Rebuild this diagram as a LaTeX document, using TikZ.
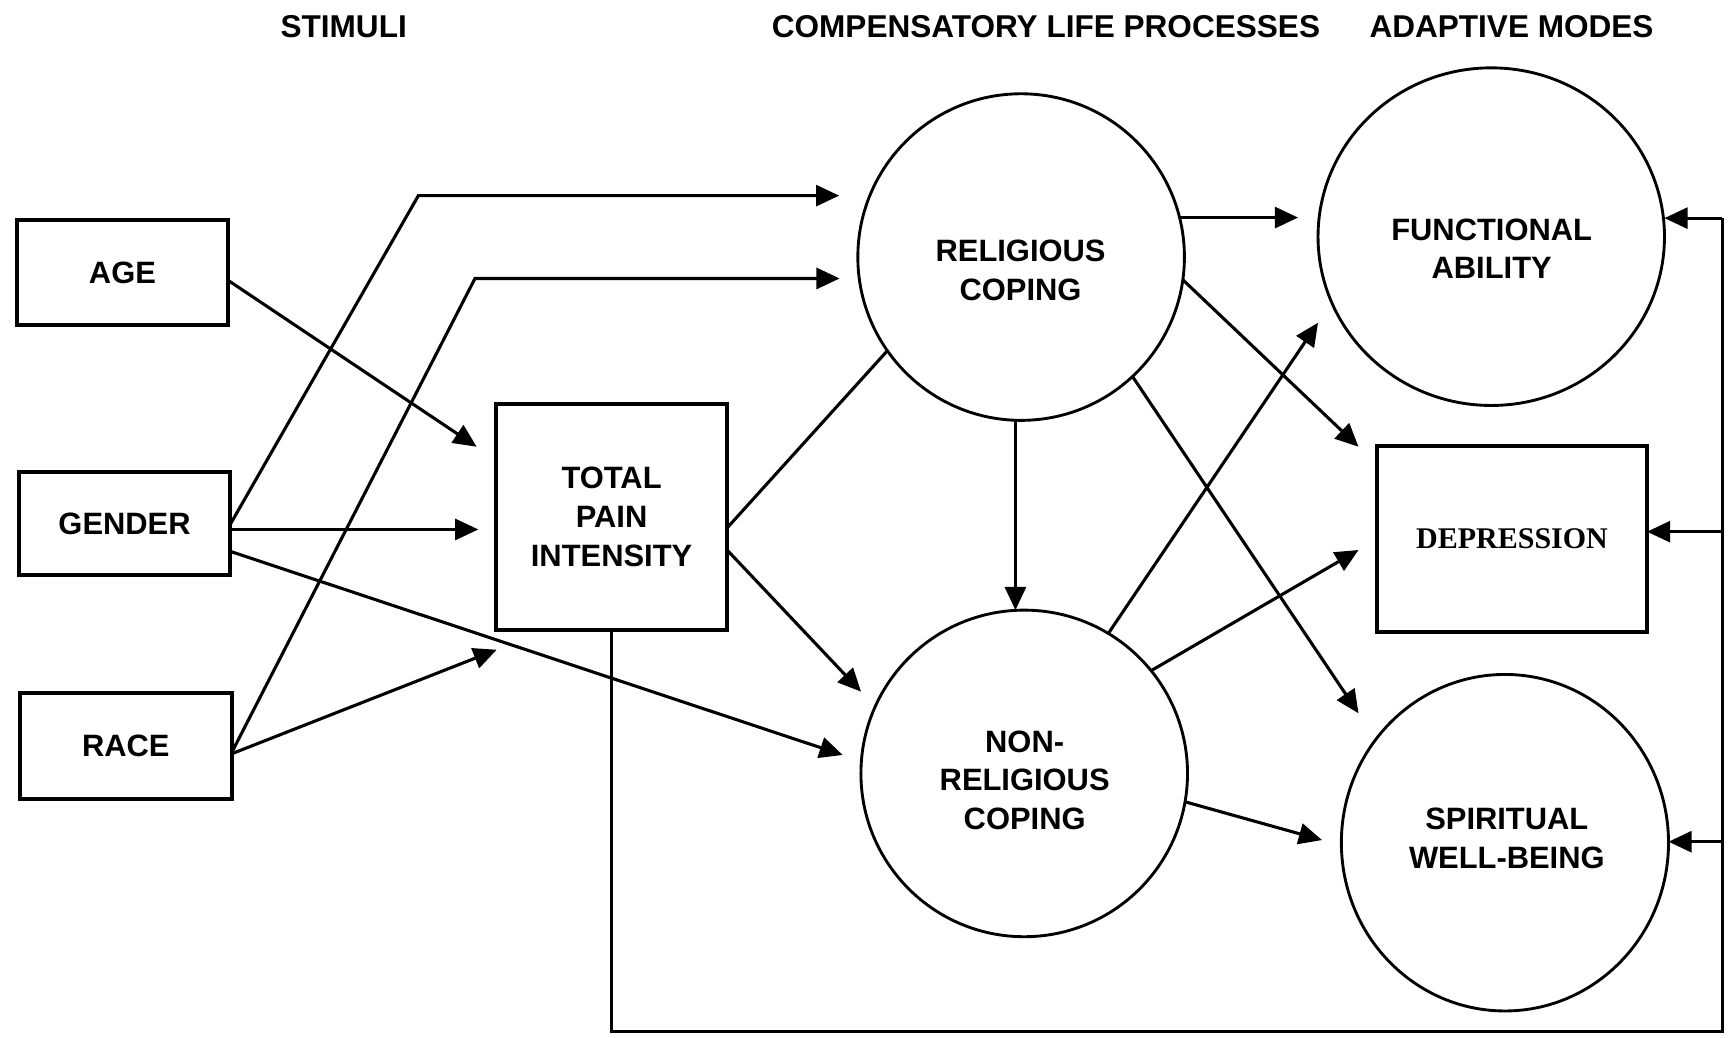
\documentclass[tikz,border=0pt]{standalone}
\usepackage{fontspec}
\setsansfont{Liberation Sans}
\newfontfamily\depfont{Liberation Serif}
\usetikzlibrary{arrows.meta,calc,shapes.geometric}
\begin{document}
\begin{tikzpicture}[x=0.5pt,y=-0.5pt,
  lbl/.style={font=\sffamily\bfseries\fontsize{14}{17.5}\selectfont, align=center, inner sep=0pt},
  ttl/.style={lbl, font=\sffamily\bfseries\fontsize{14.3}{17.5}\selectfont},
  box/.style={lbl, draw, rectangle, line width=1.8pt, outer sep=0pt},
  roundnode/.style={draw, circle, line width=1.3pt, inner sep=0pt, outer sep=0pt},
  ovalnode/.style={draw, ellipse, line width=1.3pt, inner sep=0pt, outer sep=0pt},
  conn/.style={line width=1.4pt},
  arr/.style={conn, -{Triangle[length=10.5pt,width=9.5pt]}}
]
\fill[white] (0,0) rectangle (1568,940);
\useasboundingbox (0,0) rectangle (1568,940);

% titles
\node[ttl] (tstim) at (311.5,24) {STIMULI};
\node[ttl] (tcomp) at (948,24) {COMPENSATORY LIFE PROCESSES};
\node[ttl] (tadap) at (1370,24) {ADAPTIVE MODES};

% stimuli
\node[box, minimum width=95.6pt, minimum height=47.75pt] (age) at (111,247) {AGE};
\node[box, minimum width=95.65pt, minimum height=46.65pt] (gender) at (112.9,474.5) {GENDER};
\node[box, minimum width=95.95pt, minimum height=48.35pt] (race) at (114,676.2) {RACE};
\node[box, minimum width=104.7pt, minimum height=102.5pt] (tpi) at (554.3,468.5) {TOTAL\\PAIN\\INTENSITY};

% compensatory processes
\node[roundnode, minimum size=148pt] (rc) at (925.5,233) {};
\node[lbl] (rctext) at (925,245) {RELIGIOUS\\COPING};
\node[roundnode, minimum size=148pt] (nrc) at (928.3,701) {};
\node[lbl] (nrctext) at (928.7,707) {NON-\\RELIGIOUS\\COPING};

% adaptive modes
\node[ovalnode, minimum width=157pt, minimum height=153pt] (fa) at (1351.6,214.5) {};
\node[lbl] (fatext) at (1352,225.5) {FUNCTIONAL\\ABILITY};
\node[box, font=\depfont\bfseries\fontsize{13.6}{17}\selectfont, minimum width=122.4pt, minimum height=84.1pt] (dep) at (1370.4,488.4) {DEPRESSION};
\node[ovalnode, minimum width=148.25pt, minimum height=152.5pt] (swb) at (1364,763.8) {};
\node[lbl] (swbtext) at (1365.7,759.7) {SPIRITUAL\\WELL-BEING};

% free ends of arrows (tips stop short of their targets)
\coordinate (cg) at (379.2,177.3);
\coordinate (cr) at (430.5,252.4);
\coordinate (tRCa) at (760.6,177.3);
\coordinate (tRCb) at (761,252.4);
\coordinate (tTPIa) at (432,404.9);
\coordinate (tTPIb) at (433.5,479.9);
\coordinate (tTPIc) at (450.2,588.9);
\coordinate (tNRCa) at (780.4,626.9);
\coordinate (tNRCb) at (763.8,684.3);
\coordinate (tFAa) at (1176.5,197.5);
\coordinate (tFAb) at (1194.6,292.5);
\coordinate (tDEPa) at (1231.3,404.9);
\coordinate (tDEPb) at (1231.3,498.5);
\coordinate (tSWBa) at (1231.3,646.5);
\coordinate (tSWBb) at (1198.2,761.4);
\coordinate (fbA) at (1561,197.7);
\coordinate (fbB) at (1561,481.9);
\coordinate (fbC) at (1561,762.9);
\coordinate (fbD) at (1561,935);

% stimuli connectors
\draw[arr] ($(age.east)+(0,7)$) -- (tTPIa);
\draw[arr] ($(gender.east)+(0,1)$) -- (cg) -- (tRCa);
\draw[arr] ($(gender.east)+(0,5.4)$) -- (tTPIb);
\draw[arr] ($(gender.east)+(0,25.2)$) -- (tNRCb);
\draw[arr] ($(race.east)+(0,6)$) -- (cr) -- (tRCb);
\draw[arr] ($(race.east)+(0,7)$) -- (tTPIc);

% pain intensity connectors
\draw[conn] ($(tpi.east)+(0,10)$) -- (rc.215.5);
\draw[arr] ($(tpi.east)+(0,30)$) -- (tNRCa);

% coping connectors
\draw[arr] (rc.-92.7) -- (rc.-92.7 |- nrc.north);
\draw[arr] (rc.14) -- (rc.14 -| tFAa);
\draw[arr] (rc.-8.5) -- (tDEPa);
\draw[arr] (rc.-47) -- (tSWBa);
\draw[arr] (nrc.59.4) -- (tFAb);
\draw[arr] (nrc.39.5) -- (tDEPb);
\draw[arr] (nrc.-10.4) -- (tSWBb);

% feedback loop
\draw[conn] (tpi.south) |- (fbD) -- (fbA);
\draw[arr] (fbA) -- (fbA -| fa.east);
\draw[arr] (fbB) -- (fbB -| dep.east);
\draw[arr] (fbC) -- (fbC -| swb.east);
\end{tikzpicture}
\end{document}
